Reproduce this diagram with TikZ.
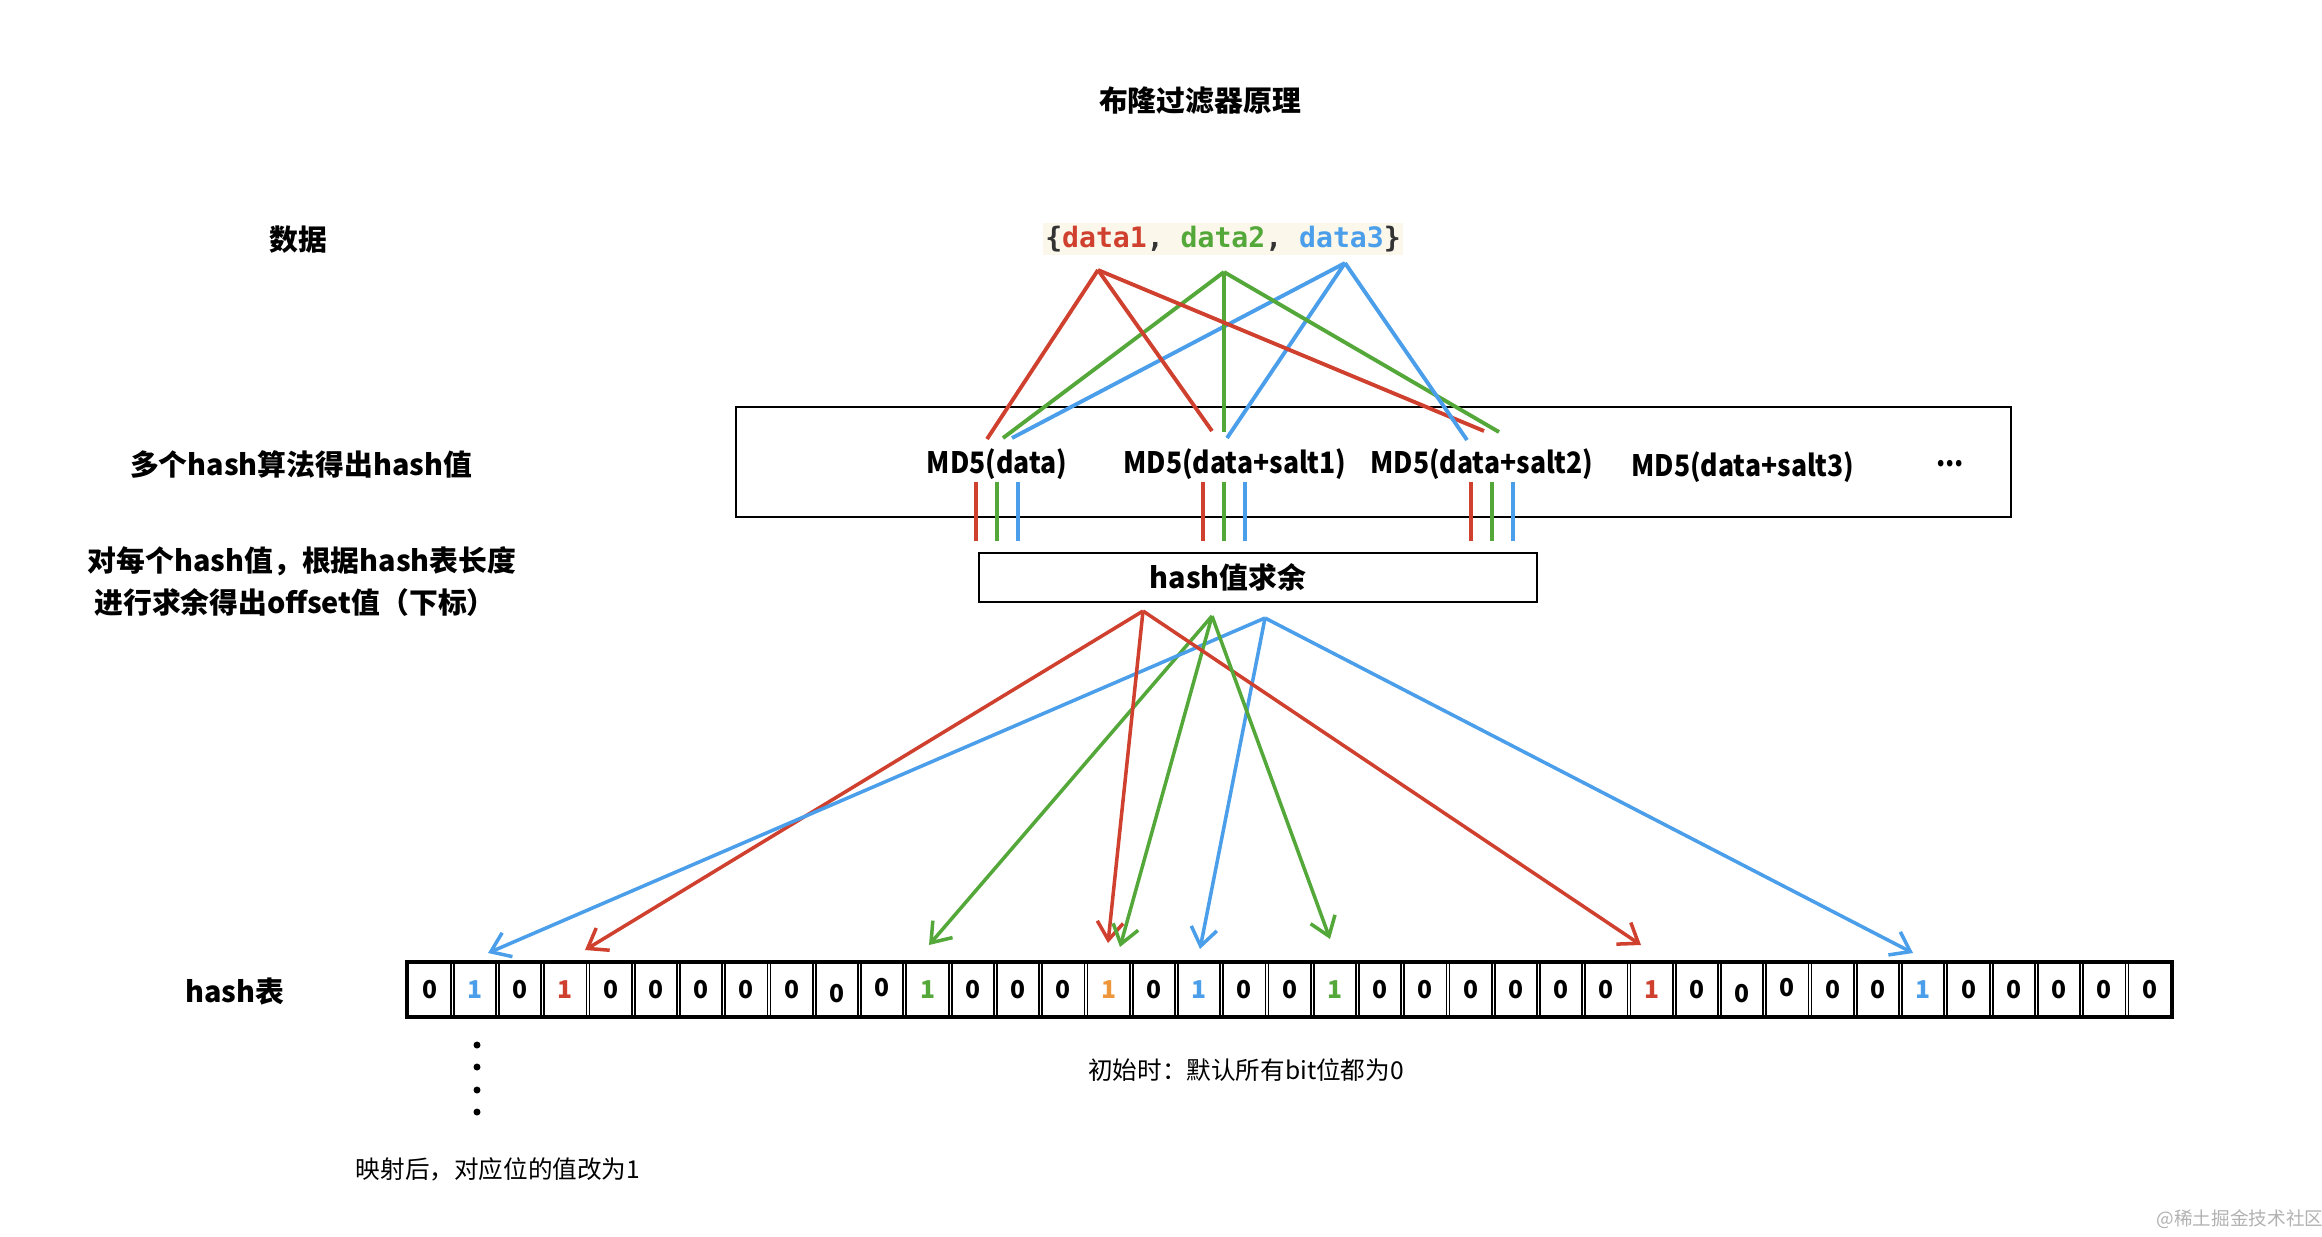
\documentclass[tikz,border=0pt]{standalone}
\usepackage{fontspec}
\setmainfont{Noto Sans CJK SC}
\newfontfamily\codefont{DejaVu Sans Mono}
\newfontfamily\narrowfont{Noto Sans CJK SC}[FakeStretch=0.9]
\usetikzlibrary{arrows.meta}

\definecolor{hred}{RGB}{208,64,46}
\definecolor{hgreen}{RGB}{84,168,58}
\definecolor{hblue}{RGB}{74,158,234}
\definecolor{horange}{RGB}{238,150,58}
\definecolor{codebg}{RGB}{251,247,234}
\definecolor{bracegray}{RGB}{51,51,51}

\tikzset{
    headtext/.style={font=\fontsize{8.2}{10}\selectfont\bfseries, inner sep=0pt},
    md5text/.style={font=\narrowfont\fontsize{8.4}{10}\selectfont\bfseries, inner sep=0pt},
    notetext/.style={font=\fontsize{7}{9}\selectfont, inner sep=0pt},
    linkline/.style={line width=1.1pt},
    hitarrow/.style={line width=1pt, -{Straight Barb[length=1.8mm, width=2.6mm]}},
    bitcell/.style={draw, line width=0.5pt, minimum width=4.226mm, minimum height=5.5mm, inner sep=0pt},
    bitdigit/.style={font=\fontsize{7}{8}\selectfont\bfseries, inner sep=0pt}
}

\begin{document}
\begin{tikzpicture}[x=0.1mm, y=-0.1mm]
    \fill[white] (0,0) rectangle (2322,1236);
    \useasboundingbox (0,0) rectangle (2322,1236);

    % titles
    \node[headtext] (title) at (1200,101) {布隆过滤器原理};
    \node[headtext] (lblData) at (298,240) {数据};
    \node[headtext] (lblHash) at (301,464) {多个hash算法得出hash值};
    \node[headtext] (lblModA) at (302,561) {对每个hash值，根据hash表长度};
    \node[headtext] (lblModB) at (295,602) {进行求余得出offset值（下标）};
    \node[headtext] (lblTable) at (235,992) {hash表};

    % data
    \node[fill=codebg, minimum width=36mm, minimum height=3.2mm, inner sep=0pt,
          font=\codefont\bfseries\fontsize{8}{10}\selectfont, text=bracegray] (data) at (1223,239)
        {\{\textcolor{hred}{data1}, \textcolor{hgreen}{data2}, \textcolor{hblue}{data3}\}};

    % hash functions
    \node[draw, line width=0.65pt, minimum width=127.5mm, minimum height=11mm, inner sep=0pt] (md5box) at (1373.5,462) {};
    \node[md5text] (md5a) at (997,464) {MD5(data)};
    \node[md5text] (md5b) at (1235,464) {MD5(data+salt1)};
    \node[md5text] (md5c) at (1482,464) {MD5(data+salt2)};
    \node[md5text] (md5d) at (1743,467) {MD5(data+salt3)};
    \node[md5text] (md5e) at (1950,464) {...};

    \node[draw, line width=0.65pt, minimum width=55.8mm, minimum height=4.9mm, inner sep=0pt] (modbox) at (1258,577.5) {};
    \node[headtext] (modtext) at (1228,577) {hash值求余};

    % data -> hash functions
    \coordinate (r0) at (1098,270);
    \coordinate (g0) at (1224,272);
    \coordinate (b0) at (1345,263);
    \foreach \n/\x/\y in {r1/987/439, r2/1212/431, r3/1484/431,
                          g1/1003/438, g2/1224/432, g3/1499/432,
                          b1/1012/438, b2/1227/438, b3/1467/440}
        \coordinate (\n) at (\x,\y);
    \foreach \i in {1,2,3} {
        \draw[linkline, hred] (r0) -- (r\i);
        \draw[linkline, hgreen] (g0) -- (g\i);
        \draw[linkline, hblue] (b0) -- (b\i);
    }

    % hash values -> remainder
    \foreach \x/\c in {976/hred, 997/hgreen, 1018/hblue,
                       1203/hred, 1224/hgreen, 1245/hblue,
                       1471/hred, 1492/hgreen, 1513/hblue}
        \draw[linkline, \c] (\x,482) -- (\x,541);

    % remainder -> bits
    \coordinate (ra) at (1143,611);
    \coordinate (ga) at (1212,616);
    \coordinate (ba) at (1265,618);
    \foreach \n/\x/\y in {rt1/585/950, rt2/1108/943, rt3/1641/945,
                          gt1/929/945, gt2/1120/947, gt3/1330/939,
                          bt1/488/953, bt2/1200/949, bt3/1913/953}
        \coordinate (\n) at (\x,\y);
    \foreach \i in {1,2,3} {
        \draw[hitarrow, hred] (ra) -- (rt\i);
        \draw[hitarrow, hgreen] (ga) -- (gt\i);
        \draw[hitarrow, hblue] (ba) -- (bt\i);
    }

    % hash table
    \def\cw{45.26}
    \foreach \v/\c/\dy [count=\i from 0] in {0/black/0, 1/hblue/0, 0/black/0, 1/hred/0, 0/black/0,
            0/black/0, 0/black/0, 0/black/0, 0/black/0, 0/black/-0.4,
            0/black/0.2, 1/hgreen/0, 0/black/0, 0/black/0, 0/black/0,
            1/horange/0, 0/black/0, 1/hblue/0, 0/black/0, 0/black/0,
            1/hgreen/0, 0/black/0, 0/black/0, 0/black/0, 0/black/0,
            0/black/0, 0/black/0, 1/hred/0, 0/black/0, 0/black/-0.4,
            0/black/0.2, 0/black/0, 0/black/0, 1/hblue/0, 0/black/0,
            0/black/0, 0/black/0, 0/black/0, 0/black/0}
    {
        \node[bitcell] (bit\i) at ({407+(\i+0.5)*\cw},989.5) {};
        \node[bitdigit, text=\c] at ([yshift=\dy mm]bit\i) {\v};
    }
    \draw[line width=1.4pt] (407,962) rectangle (2172,1017);

    \foreach \y in {1045,1067,1090,1112}
        \fill (477,\y) circle (0.35mm);

    \node[notetext] (noteInit) at (1246,1070) {初始时：默认所有bit位都为0};
    \node[notetext] (noteSet) at (498,1169) {映射后，对应位的值改为1};
    \node[font=\fontsize{5.3}{6}\selectfont, text=black!30, inner sep=0pt] (mark) at (2240,1219) {@稀土掘金技术社区};
\end{tikzpicture}
\end{document}
